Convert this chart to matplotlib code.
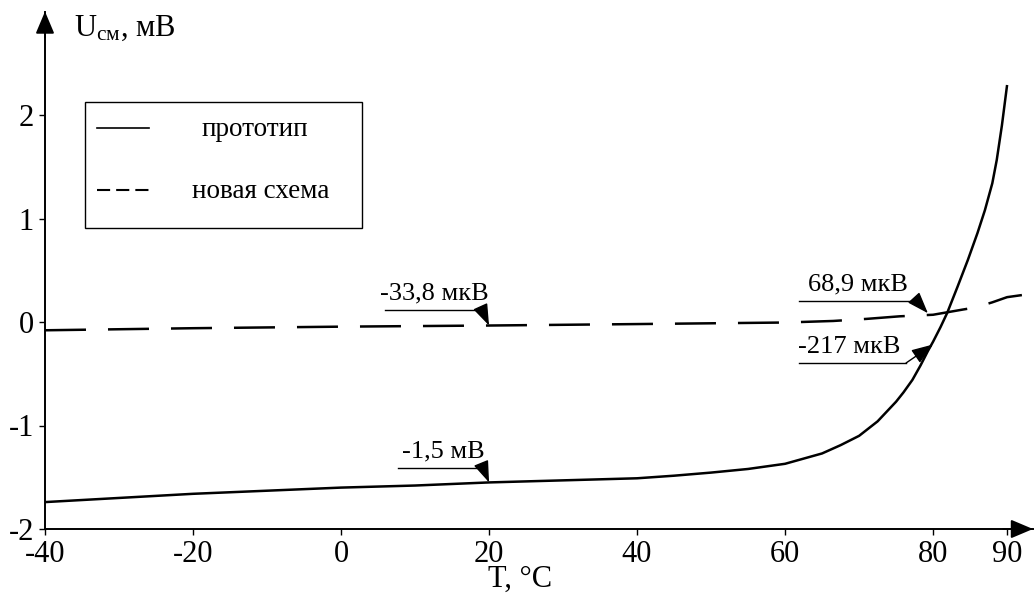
import matplotlib
matplotlib.use("Agg")
import matplotlib.pyplot as plt
from matplotlib.patches import Rectangle
from matplotlib.lines import Line2D

plt.rcParams['font.family'] = ['Liberation Serif', 'DejaVu Serif']
plt.rcParams['axes.unicode_minus'] = False

# прототип (solid)
t_proto = [-40, -30, -20, -10, 0, 10, 20, 30, 40, 45, 50, 55, 60, 62, 65,
           67.5, 70, 72.5, 75, 76, 77.2, 78.3, 79.3, 80, 81, 81.9, 83.3, 84.7,
           86, 87, 88, 88.6, 89.3, 90]
u_proto = [-1.74, -1.70, -1.66, -1.63, -1.60, -1.58, -1.55, -1.53, -1.51,
           -1.485, -1.455, -1.42, -1.37, -1.33, -1.27, -1.19, -1.10, -0.96,
           -0.77, -0.68, -0.56, -0.42, -0.28, -0.19, -0.05, 0.087, 0.34, 0.60,
           0.86, 1.08, 1.34, 1.565, 1.90, 2.29]

# новая схема (dashed)
t_new = [-40, -20, 0, 20, 40, 60, 66.5, 71, 75.5, 80, 82, 84, 85.7, 88, 90, 92]
u_new = [-0.08, -0.06, -0.045, -0.034, -0.02, -0.005, 0.01, 0.03, 0.055,
         0.07, 0.095, 0.12, 0.14, 0.19, 0.24, 0.26]

x_ticks = [-40, -20, 0, 20, 40, 60, 80, 90]
y_ticks = [-2, -1, 0, 1, 2]

# annotations: text, point, text left, underline start/end/level
ann_text = ['-1,5 мВ', '-33,8 мкВ', '68,9 мкВ', '-217 мкВ']
ann_pt = [(20, -1.55), (20, -0.034), (79.3, 0.085), (80, -0.217)]
ann_tx = [8.2, 5.3, 63.1, 61.8]
ann_line = [(7.7, 19.2, -1.41), (6.0, 19.05, 0.116),
            (61.9, 77.8, 0.203), (61.9, 76.35, -0.396)]

fig = plt.figure(figsize=(10.34, 5.96), dpi=100)
ax = fig.add_axes([45 / 1034, 67 / 596, 988 / 1034, 517.5 / 596])
ax.set_xlim(-40, 93.5)
ax.set_ylim(-2, 3.0)

ax.plot(t_proto, u_proto, color='black', lw=1.8, solid_capstyle='butt',
        solid_joinstyle='round')
ln, = ax.plot(t_new, u_new, color='black', lw=1.8, dash_capstyle='butt')
ln.set_dashes([16.4, 8.8])

for s in ['top', 'right']:
    ax.spines[s].set_visible(False)
for s in ['left', 'bottom']:
    ax.spines[s].set_linewidth(1.4)

# arrow heads on axes
head = dict(arrowstyle='-|>,head_length=0.9,head_width=0.38', color='black',
            lw=1.4, mutation_scale=15, shrinkA=0, shrinkB=0)
ax.annotate('', xy=(1.0, 0), xytext=(0.97, 0), xycoords='axes fraction',
            arrowprops=head, annotation_clip=False)
ax.annotate('', xy=(0, 1.0), xytext=(0, 0.95), xycoords='axes fraction',
            arrowprops=head, annotation_clip=False)

ax.set_xticks(x_ticks)
ax.set_xticklabels([str(v) for v in x_ticks])
ax.set_yticks(y_ticks)
ax.set_yticklabels([str(v) for v in y_ticks])
ax.tick_params(direction='out', length=4, width=1, labelsize=22, pad=4)
ax.tick_params(axis='x', pad=4)

ax.text(-36.1, 2.763, r'$\mathregular{U_{см}}$, мВ', fontsize=22,
        va='baseline', ha='left')
fig.text(488 / 1034, 9 / 596, 'T, °C', fontsize=22, va='baseline', ha='left')

for txt, (px, py), tx, (x0, x1, yl) in zip(ann_text, ann_pt, ann_tx, ann_line):
    ax.plot([x0, x1], [yl, yl], color='black', lw=1)
    ax.annotate('', xy=(px, py), xytext=(x1, yl),
                arrowprops=dict(arrowstyle='-|>,head_length=0.95,head_width=0.34',
                                color='black', lw=1, mutation_scale=14,
                                shrinkA=0, shrinkB=0))
    ax.text(tx, yl + 0.05, txt, fontsize=19, va='bottom', ha='left')

# legend box
fig.patches.append(Rectangle((85 / 1034, 1 - 228 / 596), 277 / 1034, 126 / 596,
                             transform=fig.transFigure, fill=False,
                             edgecolor='black', lw=1))
fig.lines.append(Line2D([97 / 1034, 149 / 1034], [1 - 128 / 596] * 2,
                        transform=fig.transFigure, color='black', lw=1.2))
leg_dash = Line2D([97 / 1034, 150 / 1034], [1 - 190 / 596] * 2,
                  transform=fig.transFigure, color='black', lw=1.5,
                  dash_capstyle='butt')
leg_dash.set_dashes([6.3, 2.9])
fig.lines.append(leg_dash)
fig.text(255 / 1034, 1 - 130 / 596, 'прототип', fontsize=19.5, ha='center', va='center')
fig.text(261 / 1034, 1 - 192 / 596, 'новая схема', fontsize=19.5, ha='center', va='center')

fig.savefig('out.png', dpi=100)
